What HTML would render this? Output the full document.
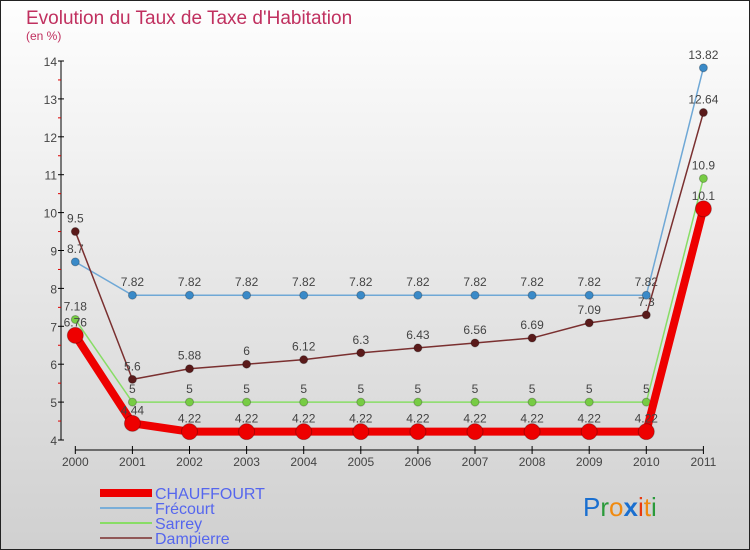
<!DOCTYPE html>
<html><head><meta charset="utf-8"><style>
body{margin:0}
#c{width:750px;height:550px;position:relative;overflow:hidden;box-sizing:border-box;border:1px solid #222;background:linear-gradient(#fefefe,#d0d0d0);font-family:"Liberation Sans",sans-serif}
</style></head><body>
<div id="c">
<svg id="s" width="750" height="550" style="position:absolute;left:-1px;top:-1px">
<text x="26" y="24" font-size="19" fill="#c0305f">Evolution du Taux de Taxe d'Habitation</text>
<text x="26" y="40" font-size="12" fill="#c0305f">(en %)</text>
<g id="ax"></g><g id="ser"></g><g id="lg"></g>
<text x="583" y="516" font-size="26" font-family="Liberation Sans,sans-serif"><tspan fill="#1a6fd0">P</tspan><tspan fill="#2a9a3a">r</tspan><tspan fill="#f08a10">o</tspan><tspan fill="#1a6fd0" font-weight="bold">x</tspan><tspan fill="#e83a10">i</tspan><tspan fill="#f08a10">t</tspan><tspan fill="#2a9a3a">i</tspan></text>
</svg>
</div>
<script>
const years=[2000,2001,2002,2003,2004,2005,2006,2007,2008,2009,2010,2011];
const yTicks=[4,5,6,7,8,9,10,11,12,13,14];
const chauffourt=[6.76,4.44,4.22,4.22,4.22,4.22,4.22,4.22,4.22,4.22,4.22,10.1];
const frecourt=[8.7,7.82,7.82,7.82,7.82,7.82,7.82,7.82,7.82,7.82,7.82,13.82];
const sarrey=[7.18,5,5,5,5,5,5,5,5,5,5,10.9];
const dampierre=[9.5,5.6,5.88,6,6.12,6.3,6.43,6.56,6.69,7.09,7.3,12.64];
const names=["CHAUFFOURT","Frécourt","Sarrey","Dampierre"];
const NS="http://www.w3.org/2000/svg";
const X=i=>75.3+i*57.1, Y=v=>440-(v-4)*37.9;
function mk(t,a,p){const e=document.createElementNS(NS,t);for(const k in a)e.setAttribute(k,a[k]);p.appendChild(e);return e;}
const ax=document.getElementById('ax'),ser=document.getElementById('ser'),lg=document.getElementById('lg');
const ya=mk('line',{x1:61,y1:Y(14),x2:61,y2:Y(4),stroke:'#000'},ax);

yTicks.forEach(v=>{mk('line',{x1:58,x2:64,y1:Y(v),y2:Y(v),stroke:'#000'},ax);
 if(v<14)mk('line',{x1:58,x2:61,y1:Y(v+.5),y2:Y(v+.5),stroke:'#d00'},ax);
 const t=mk('text',{x:57,y:Y(v)+5,'text-anchor':'end','font-size':12,fill:'#444'},ax);t.textContent=v;
 });
const xa=mk('line',{x1:X(0),x2:X(11),y1:450,y2:450,stroke:'#000'},ax);

years.forEach((y,i)=>{mk('line',{x1:X(i),x2:X(i),y1:446,y2:454,stroke:'#000'},ax);
 const t=mk('text',{x:X(i),y:466,'text-anchor':'middle','font-size':12,fill:'#444'},ax);t.textContent=y;
 });
function series(d,col,w,r,name,dot){
 const g=mk('g',{},ser);
 mk('polyline',{points:d.map((v,i)=>X(i)+','+Y(v)).join(' '),fill:'none',stroke:col,'stroke-width':w,'stroke-linejoin':'round'},g);
 d.forEach((v,i)=>{const c=mk('circle',{cx:X(i),cy:Y(v),r:r,fill:dot,stroke:'rgba(0,0,0,.25)'},g);
  
  const t=mk('text',{x:X(i),y:Y(v)-9,'text-anchor':'middle','font-size':12,fill:'#444'},g);t.textContent=v;
  });
}
series(frecourt,'#6fa8d6',1.5,4,'frecourt','#3a8ac8');
series(dampierre,'#7a3030',1.5,4,'dampierre','#5a1a1a');
series(sarrey,'#88dd66',1.5,4,'sarrey','#77cc44');
series(chauffourt,'#ee0000',8,8,'chauffourt','#ee0000');
const lc=['#ee0000','#7aaed8','#88dd66','#905858'],lw=[8,2,2,2];
names.forEach((n,i)=>{const y=493+i*15;
 const g=mk('g',{},lg);
 mk('line',{x1:100,x2:152,y1:y,y2:y,stroke:lc[i],'stroke-width':lw[i]},g);
 const t=mk('text',{x:155,y:y+6,'font-size':16,fill:'#5566ee'},g);t.textContent=n;});
</script>
</body></html>
